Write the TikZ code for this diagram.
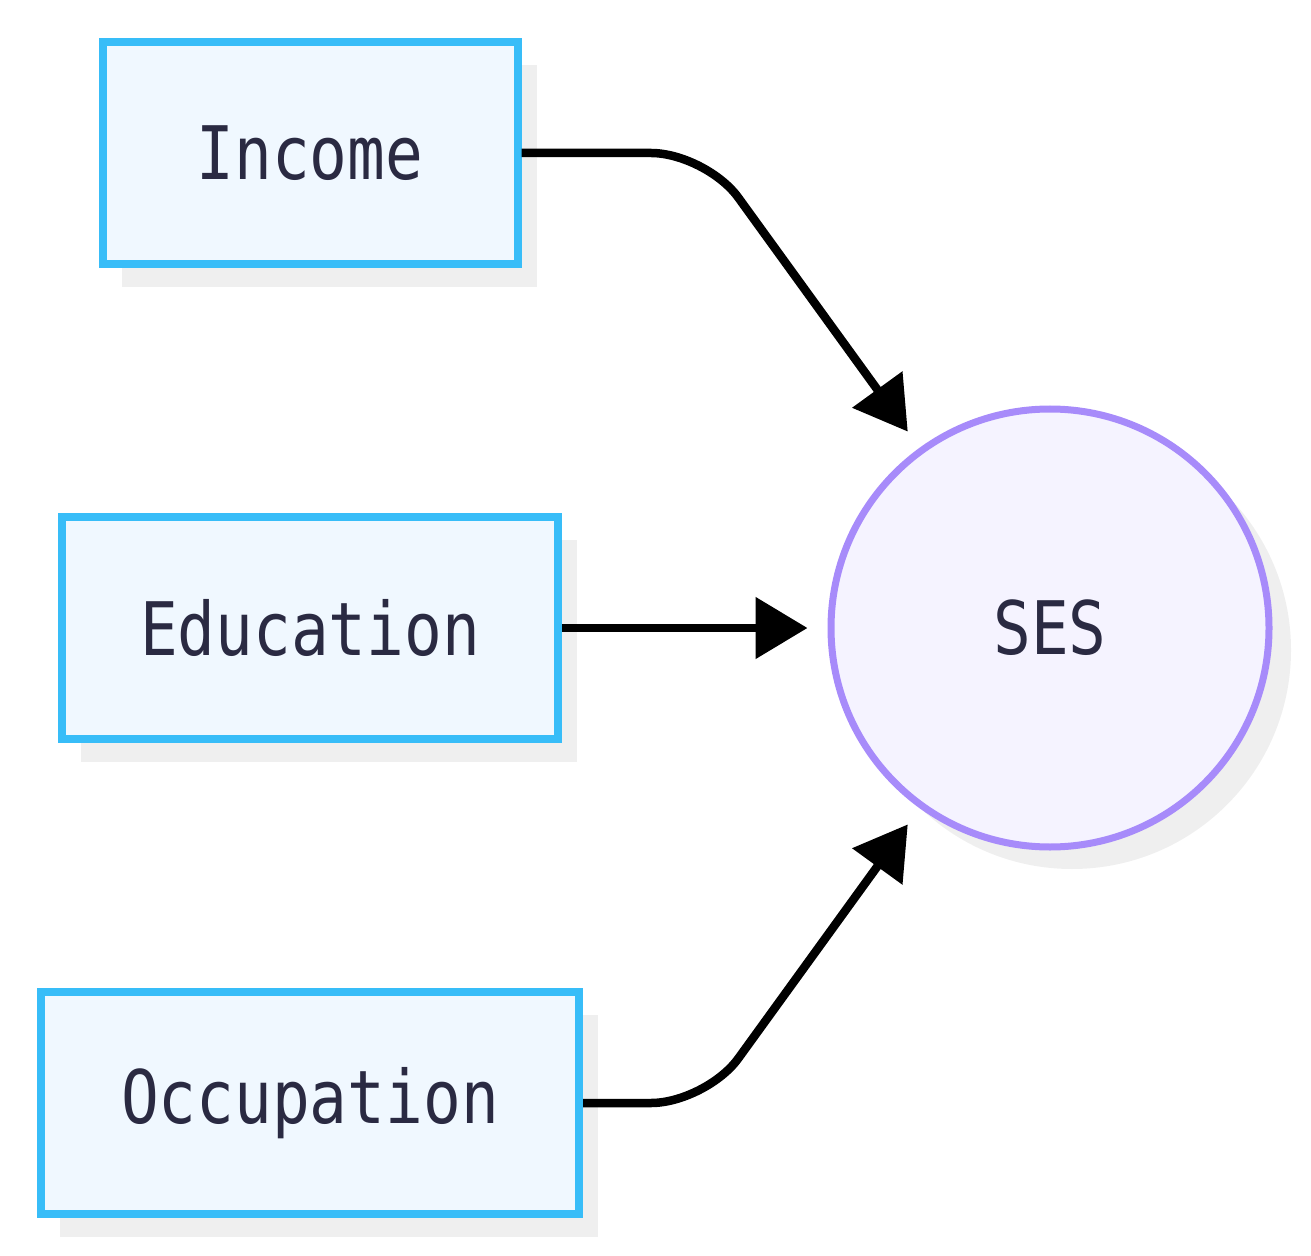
\documentclass[tikz,border=0pt]{standalone}
\usepackage{fontspec}
\usepackage{tikz}
\usetikzlibrary{arrows.meta, positioning, shadows}
\newfontfamily\labelfont[FakeStretch=0.85]{DejaVu Sans Mono}
\definecolor{boxline}{HTML}{38BDF8}
\definecolor{boxfill}{HTML}{F0F8FF}
\definecolor{sesline}{HTML}{A78BFA}
\definecolor{sesfill}{HTML}{F5F3FF}
\definecolor{labeltext}{HTML}{2A2A42}
\definecolor{shadowgray}{HTML}{EFEFEF}

\begin{document}
\begin{tikzpicture}[
		factor/.style={rectangle, draw=boxline, fill=boxfill, line width=0.08cm,
			minimum height=2.22cm, text=labeltext,
			font=\labelfont\fontsize{21pt}{25pt}\selectfont,
			drop shadow={shadow xshift=0.19cm, shadow yshift=-0.23cm, fill=shadowgray, opacity=1}},
		latent/.style={circle, draw=sesline, fill=sesfill, line width=0.07cm,
			minimum size=4.38cm, text=labeltext,
			font=\labelfont\fontsize{21pt}{25pt}\selectfont,
			drop shadow={shadow xshift=0.22cm, shadow yshift=-0.22cm, fill=shadowgray, opacity=1}},
		link/.style={line width=0.085cm, -{Triangle[length=0.52cm, width=0.6cm]},
			rounded corners=0.55cm, shorten >=0.2cm},
		]
	\useasboundingbox (0,0) rectangle (13.11,12.55);

		\node[factor, minimum width=4.15cm] (inc) at (3.10, 11.02) {Income};
		\node[factor, minimum width=4.96cm] (edu) at (3.10, 6.27) {Education};
		\node[factor, minimum width=5.38cm] (occ) at (3.10, 1.52) {Occupation};
		\node[latent] (ses) at (10.50, 6.27) {SES};

		\coordinate (incbend) at (7.06, 11.02);
		\coordinate (occbend) at (7.06, 1.52);

		\draw[link] (inc.east) -- (incbend) -- (ses);
		\draw[link] (edu.east) -- (ses.west);
		\draw[link] (occ.east) -- (occbend) -- (ses);

	\end{tikzpicture}
\end{document}
